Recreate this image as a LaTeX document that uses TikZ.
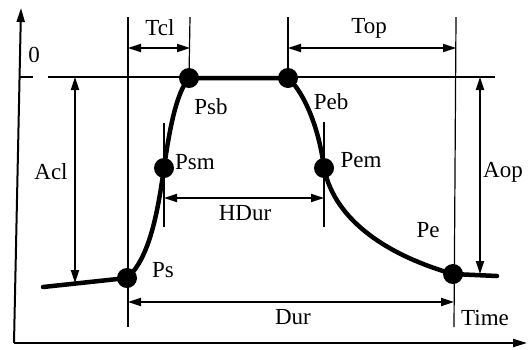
\documentclass[tikz,border=0pt]{standalone}
\usepackage{fontspec}
\setmainfont{Liberation Serif}
\usetikzlibrary{arrows.meta}
\tikzset{
  lbl/.style={font=\fontsize{23}{26}\selectfont, inner sep=0pt},
  dot/.style={circle, fill=black, inner sep=0pt, minimum size=20pt},
  thin/.style={line width=1.2pt},
  dim/.style={line width=1.8pt, {Triangle[length=13pt,width=8pt]}-{Triangle[length=13pt,width=8pt]}},
  axis/.style={line width=2pt, -{Triangle[length=14pt,width=8pt]}},
  curve/.style={line width=4.5pt, line cap=round}
}
\begin{document}
\begin{tikzpicture}[x=1pt,y=-1pt]
\useasboundingbox (0,0) rectangle (529,349);
% key points
\coordinate (Ps) at (127,278);
\coordinate (Psm) at (164,168);
\coordinate (Psb) at (189,78);
\coordinate (Peb) at (288,78);
\coordinate (Pem) at (324,168);
\coordinate (Pe) at (453,274);
\coordinate (L0) at (43,287);
\coordinate (R0) at (497,276);
% axes
\coordinate (O) at (14,343);
\coordinate (Ytop) at (21,8);
\coordinate (Xend) at (527,343);
\draw[axis] (O) -- (Ytop);
\draw[axis] (O) -- (Xend);
% zero tick and top line
\coordinate (t0a) at (20,77);
\coordinate (t0b) at (33,77);
\draw[thin] (t0a) -- (t0b);
\coordinate (topL) at (48,77);
\coordinate (topR) at (495,77);
\draw[thin] (topL) -- (topR);
% vertical reference lines
\coordinate (v1t) at (128,17); \coordinate (v1b) at (128,327);
\coordinate (v2t) at (190,17);
\coordinate (v3t) at (288,17);
\coordinate (v4t) at (456,17); \coordinate (v4b) at (454,327);
\coordinate (m1t) at (164,123); \coordinate (m1b) at (164,227);
\coordinate (m2t) at (324,122); \coordinate (m2b) at (324,227);
\draw[thin] (v1t) -- (v1b);
\draw[thin] (v2t) -- (Psb);
\draw[thin] (v3t) -- (Peb);
\draw[thin] (v4t) -- (v4b);
\draw[thin] (m1t) -- (m1b);
\draw[thin] (m2t) -- (m2b);
% dimension arrows
\coordinate (tclL) at (128,48); \coordinate (tclR) at (190,48);
\coordinate (topAL) at (288,48); \coordinate (topAR) at (456,48);
\coordinate (hdL) at (164,198); \coordinate (hdR) at (324,198);
\coordinate (durL) at (128,302); \coordinate (durR) at (454,302);
\coordinate (aclT) at (75,77); \coordinate (aclB) at (75,283);
\coordinate (aopT) at (480,77); \coordinate (aopB) at (480,274);
\draw[dim] (tclL) -- (tclR);
\draw[dim] (topAL) -- (topAR);
\draw[dim] (hdL) -- (hdR);
\draw[dim] (durL) -- (durR);
\draw[dim] (aclT) -- (aclB);
\draw[dim] (aopT) -- (aopB);
% curve
\draw[curve] (L0) -- (Ps)
  .. controls (150,258) and (158,210) .. (Psm)
  .. controls (170,125) and (177,92) .. (Psb)
  -- (Peb)
  .. controls (300,88) and (318,120) .. (Pem)
  .. controls (335,222) and (390,256) .. (Pe)
  -- (R0);
% dots
\foreach \p in {Ps,Psm,Psb,Peb,Pem,Pe} \node[dot] (d\p) at (\p) {};
% labels
\node[lbl] (l0) at (34,55) {0};
\node[lbl] (lTcl) at (160,28) {Tcl};
\node[lbl] (lTop) at (369,28) {Top};
\node[lbl] (lAcl) at (51,172) {Acl};
\node[lbl] (lAop) at (503,172) {Aop};
\node[lbl] (lPsb) at (211,107) {Psb};
\node[lbl] (lPeb) at (331,102) {Peb};
\node[lbl] (lPsm) at (195,162) {Psm};
\node[lbl] (lPem) at (361,160) {Pem};
\node[lbl] (lHDur) at (245,213) {HDur};
\node[lbl] (lPs) at (163,270) {Ps};
\node[lbl] (lPe) at (428,230) {Pe};
\node[lbl] (lDur) at (293,317) {Dur};
\node[lbl] (lTime) at (485,318) {Time};
\end{tikzpicture}
\end{document}
